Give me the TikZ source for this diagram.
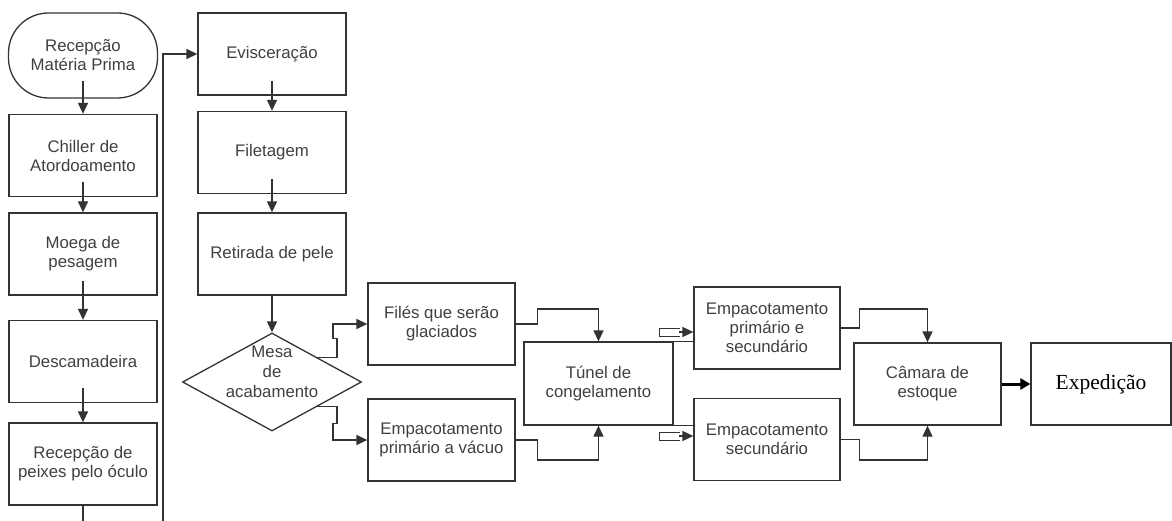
\documentclass[tikz,border=0pt]{standalone}
\usepackage{fontspec}
\setmainfont{Liberation Sans}
\newfontfamily\expfont{Liberation Serif}
\usetikzlibrary{arrows.meta, shapes.geometric}

\begin{document}
\begin{tikzpicture}[x=1pt, y=-1pt,
	box/.style={draw=black!80, line width=1.3pt, minimum width=148pt, minimum height=82pt, inner sep=0pt, align=center, text=black!75, font=\fontsize{16.8}{19}\selectfont},
	txt/.style={inner sep=0pt, align=center, text=black!75, font=\fontsize{16.8}{20}\selectfont},
	mesastyle/.style={draw=black!80, line width=1.3pt, diamond, aspect=1.83, minimum width=179pt, minimum height=98pt, inner sep=0pt},
	line/.style={draw=black!80, line width=1.3pt},
	flow/.style={line, -{Triangle[length=11pt, width=10pt]}},
	tube/.style={draw=black!80, line width=1pt},
	heavy/.style={draw=black, line width=3pt, -{Triangle[length=10pt, width=11pt]}}
]
	\useasboundingbox (0,0) rectangle (1172,521);
	\node[box, rounded corners=40pt, minimum width=149pt, minimum height=85pt] (rec) at (83,55.5) {Recepção\\Matéria Prima};
	\node[box] (chiller) at (83,155.5) {Chiller de\\Atordoamento};
	\node[box] (moega) at (83,254) {Moega de\\pesagem};
	\node[box] (desc) at (83,361.5) {Descamadeira};
	\node[box] (peixes) at (83,464) {Recepção de\\peixes pelo óculo};
	\node[box] (evisc) at (272,54) {Evisceração};
	\node[box] (filet) at (272,152.5) {Filetagem};
	\node[box] (retir) at (272,254) {Retirada de pele};
	\node[mesastyle] (mesa) at (272,382) {};
	\node[txt] (mesatxt) at ([yshift=10pt]mesa.center) {Mesa\\de\\acabamento};
	\node[box, minimum width=147pt] (files) at (441.5,324) {Filés que serão\\glaciados};
	\node[box, minimum width=147pt] (vacuo) at (441.5,440) {Empacotamento\\primário a vácuo};
	\node[box, minimum width=149pt, minimum height=83pt] (tunel) at (598.5,383.5) {Túnel de\\congelamento};
	\node[box, minimum width=146pt] (emp1) at (767,328) {Empacotamento\\primário e\\secundário};
	\node[box, minimum width=146pt] (emp2) at (767,439.5) {Empacotamento\\secundário};
	\node[box, minimum width=147pt] (camara) at (927.5,384) {Câmara de\\estoque};
	\node[box, minimum width=140pt, text=black, font=\expfont\fontsize{21.5}{24}\selectfont] (exped) at (1101,384) {Expedição};

	\draw[flow] ([yshift=18pt]rec.south) -- (chiller);
	\foreach \a/\b in {chiller/moega, moega/desc, desc/peixes, evisc/filet, filet/retir}
		\draw[flow] ([yshift=15pt]\a.south) -- (\b);
	\draw[flow] (retir) -- (mesa);
	\coordinate (cut) at (83,521);
	\draw[line] (peixes) -- (cut);
	\coordinate (back) at (163,521);
	\draw[flow] (back) |- (evisc.west);

	\draw[flow] (mesa.north east) -| ++(20,-19) -- ++(-4,0) |- (files.west);
	\draw[flow] (mesa.south east) -| ++(20,17) -- ++(-4,0) |- (vacuo.west);
	\draw[flow] (files.east) -- ++(22,0) -- ++(0,-15) -| (tunel.north);
	\draw[flow] (vacuo.east) -- ++(22,0) -- ++(0,20) -| (tunel.south);

	\draw[line] (tunel.north east) -- (tunel.north east -| emp1.west);
	\draw[line] (tunel.south east) -- (tunel.south east -| emp2.west);
	\coordinate (in1) at (659,332);
	\coordinate (in2) at (659,436);
	\foreach \c/\t in {in1/emp1, in2/emp2} {
		\draw[tube] (\c) ++(0,-4) -- ++(21,0) (\c) ++(0,4) -- ++(21,0) (\c) ++(0,-4) -- ++(0,8);
		\draw[flow] ([xshift=20pt]\c) -- (\c -| \t.west);
	}

	\draw[flow] (emp1.east) -- ++(19,0) -- ++(0,-19) -| (camara.north);
	\draw[flow] (emp2.east) -- ++(19,0) -- ++(0,20.5) -| (camara.south);
	\draw[heavy] (camara) -- (exped);
\end{tikzpicture}
\end{document}
